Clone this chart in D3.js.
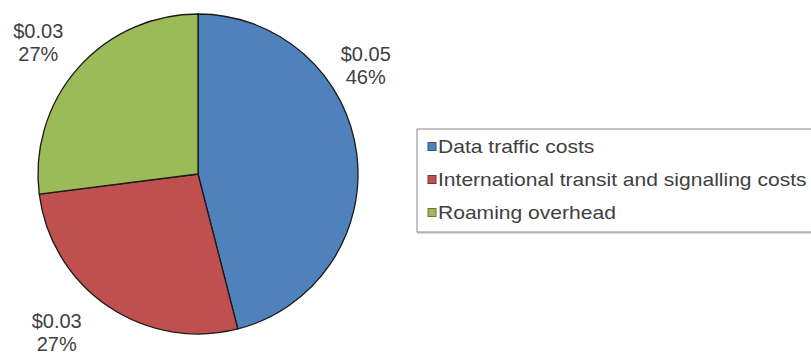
<!DOCTYPE html>
<html>
<head>
<meta charset="utf-8">
<script src="https://cdn.jsdelivr.net/npm/d3@7/dist/d3.min.js"></script>
<style>
  html, body { margin: 0; padding: 0; background: #fff; }
  svg { display: block; font-family: "Liberation Sans", Arial, sans-serif; }
</style>
</head>
<body>
<svg id="chart" width="811" height="356"></svg>
<script>
// Cost components per roaming unit
const categories = ["Data traffic costs", "International transit and signalling costs", "Roaming overhead"];
const shares = [46, 27, 27];              // percent of total
const costs = ["$0.05", "$0.03", "$0.03"]; // cost labels
const colors = ["#4F81BD", "#C0504D", "#9BBB59"];

const svg = d3.select("#chart");
const cx = 198, cy = 174, radius = 160;

const pie = d3.pie().sort(null).value(d => d)(shares);
const arc = d3.arc().innerRadius(0).outerRadius(radius);

const g = svg.append("g").attr("transform", `translate(${cx},${cy})`);

g.selectAll("path.slice")
  .data(pie)
  .join("path")
  .attr("class", "slice")
  .attr("d", arc)
  .attr("fill", (d, i) => colors[i])
  .attr("stroke", "#1a1a1a")
  .attr("stroke-width", 1.3)
  .attr("stroke-linejoin", "round");

// Outside-end labels: placed around each slice's mid-angle, nudged clear of the legend
const angleNudge = [-25.8, 7.6, -1.9];
const labelGap = [40, 52, 47];
const labels = g.selectAll("text.lbl")
  .data(pie)
  .join("text")
  .attr("class", "lbl")
  .attr("text-anchor", "middle")
  .attr("font-size", 20)
  .attr("fill", "#404040")
  .attr("transform", (d, i) => {
    const a = (d.startAngle + d.endAngle) / 2 + angleNudge[i] * Math.PI / 180;
    const r = radius + labelGap[i];
    return `translate(${r * Math.sin(a)},${-r * Math.cos(a)})`;
  });
labels.append("tspan").attr("x", 0).attr("dy", "-0.2em").text((d, i) => costs[i]);
labels.append("tspan").attr("x", 0).attr("dy", "1.15em").text((d, i) => shares[i] + "%");

// Legend
const legend = svg.append("g").attr("transform", "translate(417,129)");
legend.append("rect")
  .attr("x", 1).attr("y", 1).attr("width", 420).attr("height", 103)
  .attr("fill", "none").attr("stroke", "#d0d0d0").attr("stroke-width", 1.5);
legend.append("rect")
  .attr("x", 0).attr("y", 0).attr("width", 420).attr("height", 103)
  .attr("fill", "#fff").attr("stroke", "#8a8a8a").attr("stroke-width", 1);

const rowY = d3.scalePoint().domain(categories).range([18, 84]);
const rows = legend.selectAll("g.row")
  .data(categories)
  .join("g")
  .attr("class", "row")
  .attr("transform", d => `translate(11,${rowY(d)})`);
rows.append("rect")
  .attr("x", 0).attr("y", -4.5).attr("width", 8).attr("height", 8)
  .attr("fill", (d, i) => colors[i])
  .attr("stroke", (d, i) => d3.color(colors[i]).darker(1.2))
  .attr("stroke-width", 1);
rows.append("text")
  .attr("transform", "translate(10,0) scale(1.17,1)")
  .attr("dy", "0.35em")
  .attr("font-size", 18)
  .attr("fill", "#404040")
  .text(d => d);
</script>
</body>
</html>
